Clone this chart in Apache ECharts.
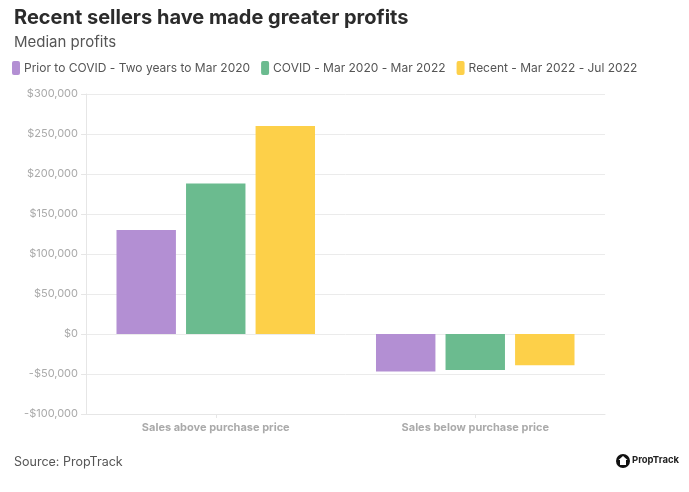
<!DOCTYPE html>
<html>
<head>
<meta charset="utf-8">
<script src="https://cdn.jsdelivr.net/npm/echarts@6/dist/echarts.min.js"></script>
<style>html,body{margin:0;padding:0;background:#fff}#c{width:689px;height:492px}</style>
</head>
<body>
<div id="c"></div>
<script>
const categories = ['Sales above purchase price', 'Sales below purchase price'];
const seriesNames = ['Prior to COVID - Two years to Mar 2020', 'COVID - Mar 2020 - Mar 2022', 'Recent - Mar 2022 - Jul 2022'];
const priorValues = [130000, -47000];
const covidValues = [188000, -45000];
const recentValues = [260000, -39000];
const colors = ['#b38fd3', '#6bbb8f', '#fdd049'];
const FONT = 'Inter, "Open Sans", sans-serif';

const chart = echarts.init(document.getElementById('c'));
const fmt = v => (v < 0 ? '-$' : '$') + Math.abs(v).toLocaleString('en-US');
chart.setOption({
  animation: false,
  textStyle: {fontFamily: FONT},
  title: [
    {text: 'Recent sellers have made greater profits', left: 9, top: 3,
     textStyle: {fontSize: 20, fontWeight: 'bold', color: '#2b2b2b', fontFamily: FONT}},
    {text: 'Median profits', left: 9, top: 30,
     textStyle: {fontSize: 15, fontWeight: 'normal', color: '#555', fontFamily: FONT}},
    {text: 'Source: PropTrack', left: 9, top: 451,
     textStyle: {fontSize: 12.5, fontWeight: 'normal', color: '#555', fontFamily: FONT}}
  ],
  legend: {
    left: 7, top: 56, itemWidth: 8, itemHeight: 14, itemGap: 11,
    icon: 'roundRect',
    textStyle: {fontSize: 12, color: '#555', padding: [0, 0, 0, -1]},
    data: seriesNames
  },
  color: colors,
  grid: {left: 86, right: 84, top: 94, bottom: 78, containLabel: false},
  xAxis: {
    type: 'category', data: categories,
    axisLine: {show: true, onZero: false, lineStyle: {color: '#e6e6e6'}},
    axisTick: {show: true, alignWithLabel: true, length: 4, lineStyle: {color: '#e6e6e6'}},
    axisLabel: {color: '#aaa', fontWeight: 'bold', fontSize: 11, margin: 8}
  },
  yAxis: {
    type: 'value', min: -100000, max: 300000, interval: 50000,
    axisLine: {show: true, lineStyle: {color: '#e6e6e6'}},
    axisTick: {show: true, length: 5, lineStyle: {color: '#e6e6e6'}},
    splitLine: {lineStyle: {color: '#ebebeb'}},
    axisLabel: {color: '#aaa', fontSize: 11, margin: 8, formatter: fmt}
  },
  series: [
    {name: seriesNames[0], type: 'bar', data: priorValues, barGap: '17%', barCategoryGap: '23.5%'},
    {name: seriesNames[1], type: 'bar', data: covidValues},
    {name: seriesNames[2], type: 'bar', data: recentValues}
  ],
  graphic: [
    {type: 'circle', shape: {cx: 623, cy: 461, r: 7}, style: {fill: '#111'}},
    {type: 'polygon', shape: {points: [[623, 456], [627.5, 460], [626, 460], [626, 465], [620, 465], [620, 460], [618.5, 460]]}, style: {fill: '#fff'}},
    {type: 'text', left: 632, top: 455, style: {text: 'PropTrack', fontSize: 9.5, fontWeight: 'bold', fill: '#222', fontFamily: FONT}}
  ]
});
</script>
</body>
</html>
